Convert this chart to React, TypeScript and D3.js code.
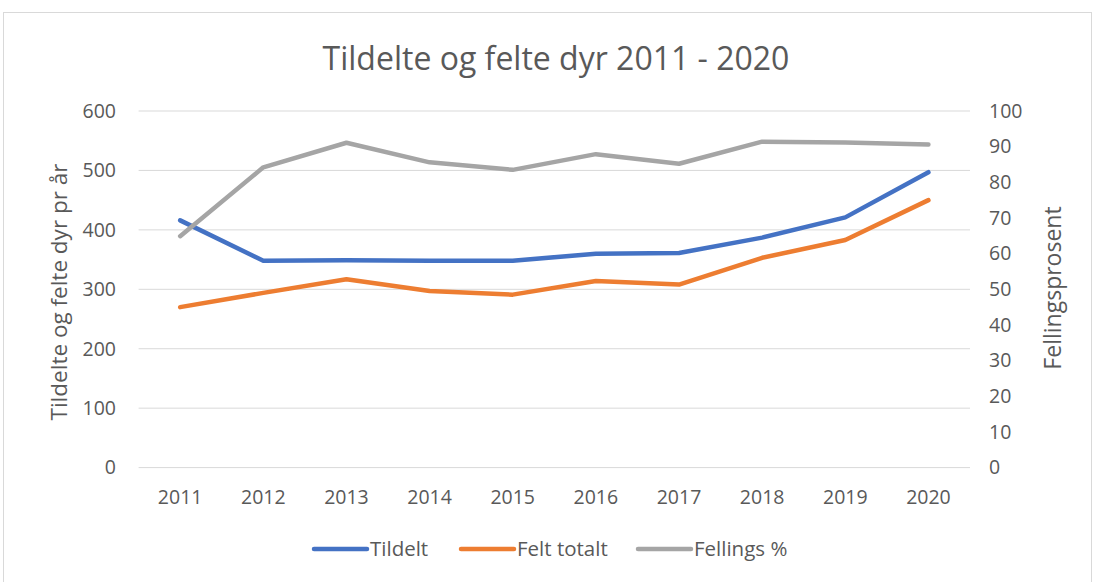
import { useEffect, useRef } from 'react';
import * as d3 from 'd3';

const years = ['2011', '2012', '2013', '2014', '2015', '2016', '2017', '2018', '2019', '2020'];
const tildelt = [416, 348, 349, 348, 348, 360, 361, 387, 421, 497];
const feltTotalt = [270, 294, 317, 297, 291, 314, 308, 353, 383, 450];
const fellingsPst = [64.9, 84.2, 91.1, 85.6, 83.5, 87.9, 85.2, 91.4, 91.2, 90.6];
const leftTicks = [0, 100, 200, 300, 400, 500, 600];
const rightTicks = [0, 10, 20, 30, 40, 50, 60, 70, 80, 90, 100];

const series = [
  { name: 'Tildelt', values: tildelt, color: '#4472C4', axis: 'left' },
  { name: 'Felt totalt', values: feltTotalt, color: '#ED7D31', axis: 'left' },
  { name: 'Fellings %', values: fellingsPst, color: '#A5A5A5', axis: 'right' }
];

const font = 'Open Sans, Noto Sans, sans-serif';
const textColor = '#595959';

export default function App() {
  const svgRef = useRef<SVGSVGElement>(null);

  useEffect(() => {
    if (!svgRef.current) return;
    const svg = d3.select(svgRef.current);
    svg.selectAll('*').remove();

    // chart frame
    svg
      .append('rect')
      .attr('x', 3.5)
      .attr('y', 12.5)
      .attr('width', 1088)
      .attr('height', 580)
      .attr('fill', 'white')
      .attr('stroke', '#D9D9D9');

    const x = d3.scaleBand<string>().domain(years).range([138.6, 970]);
    const yLeft = d3.scaleLinear().domain([0, 600]).range([467.6, 111]);
    const yRight = d3.scaleLinear().domain([0, 100]).range([467.6, 111]);

    // title
    svg
      .append('text')
      .attr('x', 556)
      .attr('y', 70)
      .attr('text-anchor', 'middle')
      .style('font-family', font)
      .style('font-size', '32px')
      .style('fill', textColor)
      .text('Tildelte og felte dyr 2011 - 2020');

    // grid lines
    svg
      .append('g')
      .selectAll('line')
      .data(leftTicks)
      .enter()
      .append('line')
      .attr('x1', 138.6)
      .attr('x2', 970)
      .attr('y1', (d) => yLeft(d))
      .attr('y2', (d) => yLeft(d))
      .attr('stroke', '#D9D9D9')
      .attr('stroke-width', 1);

    // left axis labels
    svg
      .append('g')
      .selectAll('text')
      .data(leftTicks)
      .enter()
      .append('text')
      .attr('x', 116)
      .attr('y', (d) => yLeft(d))
      .attr('dy', '0.35em')
      .attr('text-anchor', 'end')
      .style('font-family', font)
      .style('font-size', '19.5px')
      .style('fill', textColor)
      .text((d) => d);

    // right axis labels
    svg
      .append('g')
      .selectAll('text')
      .data(rightTicks)
      .enter()
      .append('text')
      .attr('x', 989)
      .attr('y', (d) => yRight(d))
      .attr('dy', '0.35em')
      .attr('text-anchor', 'start')
      .style('font-family', font)
      .style('font-size', '19.5px')
      .style('fill', textColor)
      .text((d) => d);

    // x labels
    svg
      .append('g')
      .selectAll('text')
      .data(years)
      .enter()
      .append('text')
      .attr('x', (d) => (x(d) ?? 0) + x.bandwidth() / 2)
      .attr('y', 497)
      .attr('dy', '0.35em')
      .attr('text-anchor', 'middle')
      .style('font-family', font)
      .style('font-size', '19.5px')
      .style('fill', textColor)
      .text((d) => d);

    // axis titles
    svg
      .append('text')
      .attr('transform', `translate(67,292) rotate(-90)`)
      .attr('text-anchor', 'middle')
      .style('font-family', font)
      .style('font-size', '22.5px')
      .style('fill', textColor)
      .text('Tildelte og felte dyr pr år');

    svg
      .append('text')
      .attr('transform', `translate(1061,288) rotate(-90)`)
      .attr('text-anchor', 'middle')
      .style('font-family', font)
      .style('font-size', '23px')
      .style('fill', textColor)
      .text('Fellingsprosent');

    // lines
    series.forEach((s) => {
      const yScale = s.axis === 'left' ? yLeft : yRight;
      const line = d3
        .line<number>()
        .x((_, i) => (x(years[i]) ?? 0) + x.bandwidth() / 2)
        .y((d) => yScale(d));
      svg
        .append('path')
        .datum(s.values)
        .attr('d', line)
        .attr('fill', 'none')
        .attr('stroke', s.color)
        .attr('stroke-width', 4.5)
        .attr('stroke-linecap', 'round')
        .attr('stroke-linejoin', 'round');
    });

    // legend
    const legendX = [314, 461, 638];
    const legend = svg
      .append('g')
      .selectAll('g')
      .data(series)
      .enter()
      .append('g')
      .attr('transform', (_, i) => `translate(${legendX[i]},549)`);
    legend
      .append('line')
      .attr('x1', 0)
      .attr('x2', 53)
      .attr('stroke', (d) => d.color)
      .attr('stroke-width', 4.5)
      .attr('stroke-linecap', 'round');
    legend
      .append('text')
      .attr('x', 56)
      .attr('dy', '0.35em')
      .style('font-family', font)
      .style('font-size', '20.5px')
      .style('fill', textColor)
      .text((d) => d.name);
  }, []);

  return (
    <div style={{ position: 'absolute', left: 0, top: 0 }}>
      <svg ref={svgRef} width={1096} height={582} style={{ display: 'block' }}></svg>
    </div>
  );
}
